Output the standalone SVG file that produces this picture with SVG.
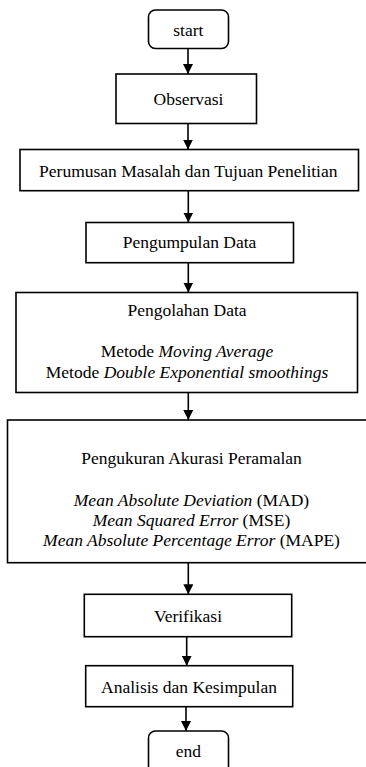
<svg xmlns="http://www.w3.org/2000/svg" width="366" height="767" viewBox="0 0 366 767">
<defs>
<style>
.box{fill:#fff;stroke:#000;stroke-width:1.6}
.t{font-family:'Liberation Serif','Tinos','Times New Roman','DejaVu Serif',serif;font-size:17.5px;fill:#000;text-anchor:middle}
.i{font-style:italic}
.c{stroke:#000;stroke-width:1.6;fill:none}
</style>
<marker id="ah" markerWidth="10" markerHeight="10" refX="10" refY="5" orient="auto" markerUnits="userSpaceOnUse" viewBox="0 0 10 10">
<path d="M0,0 L10,5 L0,10 z" fill="#000"/>
</marker>
</defs>
<rect width="366" height="767" fill="#fff"/>
<g id="connectors">
<line class="c" x1="188" y1="48.5" x2="188" y2="74" marker-end="url(#ah)"/>
<line class="c" x1="188" y1="123.5" x2="188" y2="149.5" marker-end="url(#ah)"/>
<line class="c" x1="188.3" y1="191" x2="188.3" y2="222.5" marker-end="url(#ah)"/>
<line class="c" x1="188.3" y1="262.5" x2="188.3" y2="292.5" marker-end="url(#ah)"/>
<line class="c" x1="188.3" y1="392.5" x2="188.3" y2="420" marker-end="url(#ah)"/>
<line class="c" x1="188.3" y1="562.7" x2="188.3" y2="594.3" marker-end="url(#ah)"/>
<line class="c" x1="186.7" y1="636.7" x2="186.7" y2="665.7" marker-end="url(#ah)"/>
<line class="c" x1="186" y1="706.7" x2="186" y2="731" marker-end="url(#ah)"/>
</g>
<g id="start">
<rect class="box" x="148.5" y="10" width="80" height="38.5" rx="7"/>
<text class="t" x="188.3" y="35.5">start</text>
</g>
<g id="observasi">
<rect class="box" x="116" y="74" width="140.5" height="49.5"/>
<text class="t" x="188.5" y="105">Observasi</text>
</g>
<g id="perumusan">
<rect class="box" x="20" y="149.5" width="338.5" height="41.2"/>
<text class="t" x="188.3" y="176.5">Perumusan Masalah dan Tujuan Penelitian</text>
</g>
<g id="pengumpulan">
<rect class="box" x="86" y="222.5" width="207.5" height="40.2"/>
<text class="t" x="189.5" y="247.5">Pengumpulan Data</text>
</g>
<g id="pengolahan">
<rect class="box" x="16" y="292.5" width="341.5" height="100"/>
<text class="t" x="187" y="316">Pengolahan Data</text>
<text class="t" x="187" y="356.5">Metode <tspan class="i">Moving Average</tspan></text>
<text class="t" x="187" y="378">Metode <tspan class="i">Double Exponential smoothings</tspan></text>
</g>
<g id="pengukuran">
<rect class="box" x="7.5" y="420" width="372" height="142.7"/>
<text class="t" x="191.5" y="464">Pengukuran Akurasi Peramalan</text>
<text class="t" x="191.5" y="506"><tspan class="i">Mean Absolute Deviation</tspan> (MAD)</text>
<text class="t" x="191.5" y="526"><tspan class="i">Mean Squared Error</tspan> (MSE)</text>
<text class="t" x="191.5" y="546"><tspan class="i">Mean Absolute Percentage Error</tspan> (MAPE)</text>
</g>
<g id="verifikasi">
<rect class="box" x="84.3" y="594.3" width="207.4" height="42.4"/>
<text class="t" x="188" y="621.5">Verifikasi</text>
</g>
<g id="analisis">
<rect class="box" x="85.7" y="665.7" width="207" height="41"/>
<text class="t" x="189" y="693">Analisis dan Kesimpulan</text>
</g>
<g id="end">
<rect class="box" x="148.5" y="731" width="80" height="45" rx="7"/>
<text class="t" x="188.3" y="756.5">end</text>
</g>
</svg>
